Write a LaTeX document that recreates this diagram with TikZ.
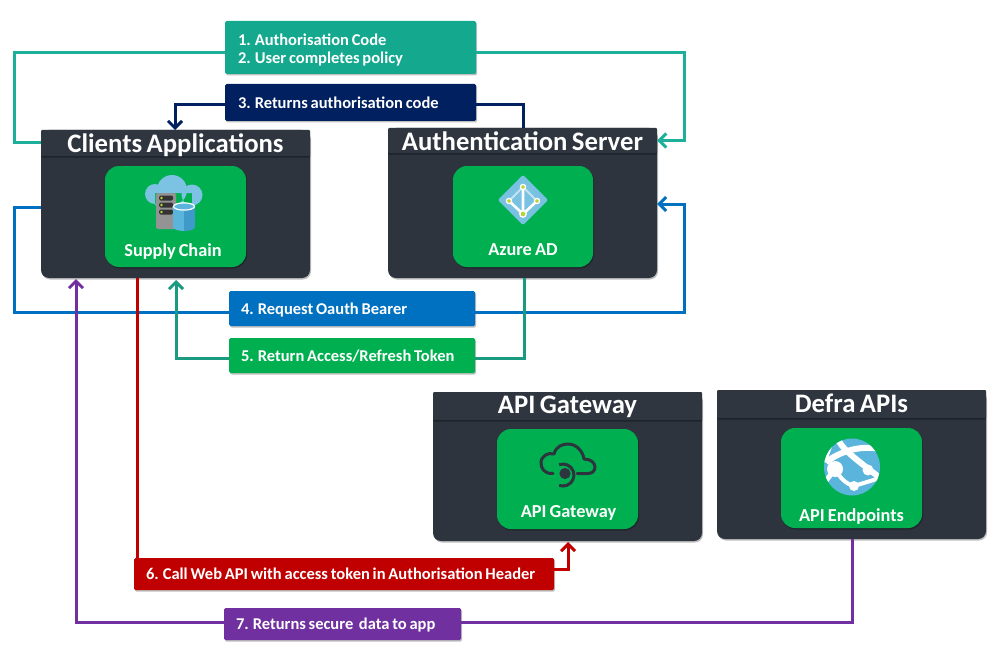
\documentclass[tikz,border=0pt]{standalone}
\usepackage{fontspec}
\setmainfont[WordSpace=0.75]{Carlito}
\usetikzlibrary{arrows.meta,shadows,calc}
\definecolor{cTeal}{HTML}{14A88F}
\definecolor{cTealLine}{HTML}{1CB09A}
\definecolor{cNavy}{HTML}{002060}
\definecolor{cBlue}{HTML}{0070C0}
\definecolor{cGreen}{HTML}{00B050}
\definecolor{cGreenLine}{HTML}{1A9A80}
\definecolor{cRed}{HTML}{C00000}
\definecolor{cPurple}{HTML}{7030A0}
\definecolor{cDark}{HTML}{2D343E}
\definecolor{cHead}{HTML}{2F3640}
\definecolor{cSky}{HTML}{7CC3E3}
\definecolor{cAzure}{HTML}{5BB4DC}
\definecolor{cAzureD}{HTML}{3F9AC9}
\definecolor{cLime}{HTML}{B8D432}
\tikzset{
  x=1pt,y=-1pt,
  softshadow/.style={drop shadow={shadow xshift=1pt,shadow yshift=-1.5pt,fill=black,opacity=.25}},
  size/.style 2 args={minimum width=#1pt,minimum height=#2pt,inner sep=0pt},
  stepbox/.style n args={3}{size={#1}{#2},fill=#3,rounded corners=1.5pt,softshadow,text=white,
    font=\fontsize{16.5}{18}\selectfont\bfseries,align=left,text width=#1pt-24pt,
    execute at begin node={\spaceskip=0pt \xspaceskip=0pt \hyphenpenalty=10000 },text height=13pt,text depth=1.5pt},
  body/.style 2 args={size={#1}{#2},fill=cDark,rounded corners=8pt,softshadow},
  headbar/.style 2 args={size={#1}{#2},fill=cHead,rounded corners=1pt,text=white,
    font=\fontsize{26.7}{30}\selectfont\bfseries,text height=19pt,text depth=0pt,
    drop shadow={shadow xshift=0pt,shadow yshift=-1.5pt,fill=black,opacity=.35}},
  card/.style 2 args={size={#1}{#2},fill=cGreen,rounded corners=14pt,softshadow},
  cardlabel/.style={text=white,font=\fontsize{18.3}{20}\selectfont\bfseries,inner sep=0pt},
  link/.style={line width=3pt,draw=#1},
  tiplink/.style={line width=3pt,draw=#1,-{Straight Barb[length=7pt,width=14pt,line width=3pt]}},
}
\begin{document}
\begin{tikzpicture}
\useasboundingbox[fill=white] (0,0) rectangle (1001,658);

% containers
\node[body={269}{148}] (clients) at (175.5,204) {};
\node[headbar={269}{26}] (clientsHead) at (175.5,143) {Clients Applications};
\node[body={269}{150}] (auth) at (522.5,203) {};
\node[headbar={269}{25}] (authHead) at (522.5,140.5) {Authentication Server};
\node[body={269}{149}] (gateway) at (567.5,466.5) {};
\node[headbar={269}{28},text height=15pt] (gatewayHead) at (567.5,406) {API Gateway};
\node[body={269}{149}] (defra) at (851.5,464.5) {};
\node[headbar={269}{28},text height=16pt] (defraHead) at (851.5,404) {Defra APIs};

% cards
\node[card={141}{101}] (supply) at (175.5,216.5) {};
\node[cardlabel] (supplyText) at (173,252) {Supply Chain};
\node[card={140}{101}] (azure) at (523,216.5) {};
\node[cardlabel] (azureText) at (523,249.5) {Azure AD};
\node[card={141}{100}] (apigw) at (567.5,479) {};
\node[cardlabel] (apigwText) at (568.5,513) {API Gateway};
\node[card={141}{100}] (endp) at (851.5,478) {};
\node[cardlabel] (endpText) at (851.5,517) {API Endpoints};

% step boxes
\node[stepbox={251}{53}{cTeal},text height=11pt,text depth=15pt] (s12) at (350.5,47.5) {\hspace*{1pt}1.\hspace{4pt}Authorisation Code\\\hspace*{1pt}2.\hspace{4pt}User completes policy};
\node[stepbox={251}{37}{cNavy}] (s3) at (350.5,102.5) {\hspace*{1pt}3.\hspace{4pt}Returns authorisation code};
\node[stepbox={246}{35}{cBlue}] (s4) at (352,308.5) {4. Request Oauth Bearer};
\node[stepbox={246}{35}{cGreen}] (s5) at (352,355.5) {5. Return Access/Refresh Token};
\node[stepbox={420}{32}{cRed}] (s6) at (344,574) {6. Call Web API with access token in Authorisation Header};
\node[stepbox={237}{32}{cPurple}] (s7) at (342.5,624) {7. Returns secure\ \ data to app};

% free corner points of the connectors
\coordinate (railTL) at (14,53);
\coordinate (railTR) at (684,53);
\coordinate (navyL) at (175,105);
\coordinate (navyR) at (523,105);
\coordinate (clNavy) at (175,130);
\coordinate (auNavy) at (523,128);
\coordinate (clBlue) at (41,207);
\coordinate (railBL) at (14,312);
\coordinate (railBR) at (684,312);
\coordinate (auBlue) at (657,204);
\coordinate (clGreen) at (176,280);
\coordinate (auGreen) at (524,278);
\coordinate (clRed) at (137,278);
\coordinate (redTop) at (137,558);
\coordinate (gwRed) at (568,542);
\coordinate (deOut) at (852,539);
\coordinate (clPurple) at (76,279);

% connectors
\draw[link=cTealLine] (s12.west|-railTL) -- (railTL) -- (14,143) -- (clientsHead.west);
\draw[tiplink=cTealLine] (s12.east|-railTR) -- (railTR) -- (684,140.5) -- (authHead.east);
\draw[tiplink=cNavy] (s3.west|-navyL) -- (navyL) -- (clNavy);
\draw[link=cNavy] (s3.east|-navyR) -- (navyR) -- (auNavy);
\draw[link=cBlue] (clBlue) -- (14,207) -- (railBL) -- (s4.west|-railBL);
\draw[tiplink=cBlue] (s4.east|-railBR) -- (railBR) -- (684,204) -- (auBlue);
\draw[tiplink=cGreenLine] (s5.west|-0,358) -- (176,358) -- (clGreen);
\draw[link=cGreenLine] (s5.east|-0,358) -- (524,358) -- (auGreen);
\draw[link=cRed] (clRed) -- (redTop);
\draw[tiplink=cRed] (s6.east|-0,569) -- (568,569) -- (gwRed);
\draw[link=cPurple] (deOut) -- (852,622) -- (s7.east|-0,622);
\draw[tiplink=cPurple] (s7.west|-0,622) -- (76,622) -- (clPurple);

% icon: cloud with server and cylinder
\fill[cSky] (155,194) circle (10) (172,190) circle (15) (192,195) circle (10.5) (155,193) rectangle (192,205);
\fill[gray!85,rounded corners=1.5pt] (156,193) rectangle (176,229);
\foreach \yy in {198,205,212}{
  \fill[black!80,rounded corners=1.5pt] (159,\yy-2.5) rectangle (173,\yy+2.5);
  \fill[cLime] (161.5,\yy) circle (1.4);
}
\fill[cAzure] (173,206) -- (184,206) -- (184,231) arc (90:180:11 and 4) -- cycle;
\fill[cAzureD] (184,206) -- (195,206) -- (195,227) arc (0:90:11 and 4) -- cycle;
\fill[cAzure,draw=white,line width=1.2pt] (184,206.5) ellipse (10.5 and 3.6);

% icon: directory diamond
\fill[cSky!90!cAzure,draw=cSky!90!cAzure,line width=3pt,line join=round] (523,177) -- (546,200) -- (523,223) -- (500,200) -- cycle;
\draw[white!55!cSky,line width=1.8pt] (509,201) -- (523,187) -- (537,201);
\draw[white,line width=2.6pt] (523,187) -- (523,214) (509,201) -- (523,214) -- (537,201);
\foreach \cx/\cy/\r in {523/187/2.6,509/201/2.6,537/201/2.6,523/214/3.2}{
  \fill[cLime,draw=white,line width=1.3pt] (\cx,\cy) circle (\r);
}

% icon: gateway cloud
\draw[cDark,line width=3pt,line cap=round,line join=round]
  (553,473.5) .. controls (544,474) and (541,468) .. (541,463)
  .. controls (541,456) and (548,452) .. (554,454)
  .. controls (556,446) and (563,444) .. (568,444)
  .. controls (577,444) and (583,452) .. (584,459)
  .. controls (591,459) and (595,463) .. (595,467)
  .. controls (595,471) and (592,473.5) .. (588,473.5) -- (577,473.5);
\fill[cDark] (565,473.5) circle (5.6);
\draw[cDark,line width=3pt] (559.2,464.7) arc (-110:110:11);

% icon: globe
\begin{scope}
  \clip (852,467) ellipse (28 and 28.5);
  \fill[cAzure] (824,438) rectangle (880,496);
  \draw[white,line width=6pt] (838,440) .. controls (845,452) and (860,462) .. (880,478);
  \draw[white,line width=6pt] (826,462) .. controls (840,452) and (858,445) .. (880,449);
  \draw[white,line width=4pt] (835,469) .. controls (840,478) and (846,484) .. (854,486) -- (880,478);
  \draw[white,line width=5pt] (835,469) -- (822,486);
  \draw[white,line width=5pt] (830,445) -- (824,462);
  \fill[white] (835,469) circle (8) (868,470) circle (5.5) (854,486) circle (5);
\end{scope}
\end{tikzpicture}
\end{document}
